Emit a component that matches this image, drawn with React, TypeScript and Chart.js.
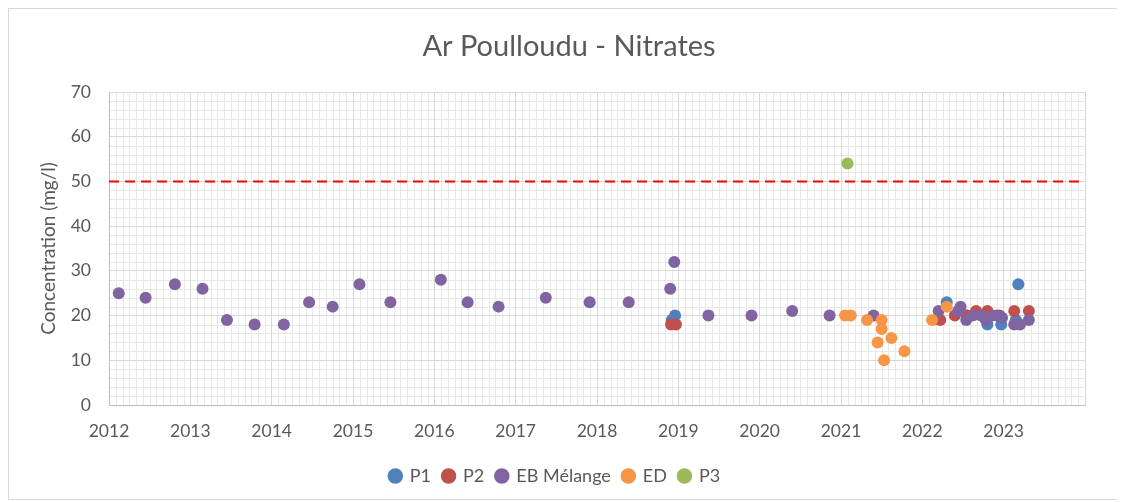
import React, { useEffect, useRef } from "react";
import { Chart, registerables } from "chart.js";

Chart.register(...registerables);

const TITLE = "Ar Poulloudu - Nitrates";
const Y_TITLE = "Concentration (mg/l)";
const X_MIN = 2012;
const X_MAX = 2024;
const Y_MIN = 0;
const Y_MAX = 70;
const Y_STEP = 10;
const THRESHOLD = 50;

const SERIES_NAMES = ["P1", "P2", "EB Mélange", "ED", "P3"];
const SERIES_COLORS = ["#4F81BD", "#C0504D", "#8064A2", "#F79646", "#9BBB59"];

const P1_DATES = [2018.92, 2018.96, 2022.3, 2022.55, 2022.8, 2022.97, 2023.15, 2023.18];
const P1_VALUES = [19, 20, 23, 20, 18, 18, 19, 27];

const P2_DATES = [2018.91, 2018.97, 2022.22, 2022.4, 2022.55, 2022.66, 2022.8, 2022.95, 2023.13, 2023.31];
const P2_VALUES = [18, 18, 19, 20, 20, 21, 21, 20, 21, 21];

const EB_DATES = [
  2012.12, 2012.45, 2012.81, 2013.15, 2013.45, 2013.79, 2014.15, 2014.46, 2014.75, 2015.08,
  2015.46, 2016.08, 2016.41, 2016.79, 2017.37, 2017.91, 2018.39, 2018.9, 2018.95, 2019.37,
  2019.9, 2020.4, 2020.86, 2021.4, 2022.2, 2022.44, 2022.47, 2022.54, 2022.62, 2022.72,
  2022.78, 2022.86, 2022.92, 2022.98, 2023.13, 2023.2, 2023.31,
];
const EB_VALUES = [
  25, 24, 27, 26, 19, 18, 18, 23, 22, 27,
  23, 28, 23, 22, 24, 23, 23, 26, 32, 20,
  20, 21, 20, 20, 21, 21, 22, 19, 20, 20,
  19, 20, 20, 19.5, 18, 18, 19,
];

const ED_DATES = [2021.05, 2021.12, 2021.32, 2021.5, 2021.5, 2021.45, 2021.62, 2021.53, 2021.78, 2022.12, 2022.3];
const ED_VALUES = [20, 20, 19, 19, 17, 14, 15, 10, 12, 19, 22];

const P3_DATES = [2021.08];
const P3_VALUES = [54];

const ALL_DATES = [P1_DATES, P2_DATES, EB_DATES, ED_DATES, P3_DATES];
const ALL_VALUES = [P1_VALUES, P2_VALUES, EB_VALUES, ED_VALUES, P3_VALUES];

const TEXT_COLOR = "#595959";
const FONT = "Lato, 'Open Sans', sans-serif";

const minorGrid = {
  id: "minorGrid",
  beforeDraw(chart: any) {
    const { ctx, chartArea, scales } = chart;
    const xs = scales.x;
    const ys = scales.y;
    ctx.save();
    ctx.strokeStyle = "#e8e8e8";
    ctx.lineWidth = 1;
    ctx.beginPath();
    for (let m = X_MIN * 12; m <= X_MAX * 12; m++) {
      if (m % 12 === 0) continue;
      const px = Math.round(xs.getPixelForValue(m / 12)) + 0.5;
      ctx.moveTo(px, chartArea.top);
      ctx.lineTo(px, chartArea.bottom);
    }
    for (let v = Y_MIN; v <= Y_MAX; v += 2) {
      if (v % Y_STEP === 0) continue;
      const py = Math.round(ys.getPixelForValue(v)) + 0.5;
      ctx.moveTo(chartArea.left, py);
      ctx.lineTo(chartArea.right, py);
    }
    ctx.stroke();
    ctx.restore();
  },
};

const chartTitle = {
  id: "chartTitle",
  afterDraw(chart: any) {
    const { ctx, width } = chart;
    ctx.save();
    ctx.fillStyle = TEXT_COLOR;
    ctx.font = `normal 29px ${FONT}`;
    ctx.textAlign = "center";
    ctx.textBaseline = "middle";
    ctx.fillText(TITLE, width / 2 + 6, 38);
    ctx.restore();
  },
};

export default function App() {
  const ref = useRef<HTMLCanvasElement | null>(null);

  useEffect(() => {
    if (!ref.current) return;
    const scatterSets = SERIES_NAMES.map((name, i) => ({
      type: "scatter" as const,
      label: name,
      data: ALL_DATES[i].map((d, j) => ({ x: d, y: ALL_VALUES[i][j] })),
      backgroundColor: SERIES_COLORS[i],
      borderColor: SERIES_COLORS[i],
      borderWidth: 0,
      pointRadius: 6,
      pointStyle: "circle",
      order: 10 - i,
    }));
    const thresholdSet = {
      type: "line" as const,
      label: "Seuil",
      data: [
        { x: X_MIN, y: THRESHOLD },
        { x: X_MAX, y: THRESHOLD },
      ],
      borderColor: "#FF0000",
      borderWidth: 2,
      borderDash: [10, 6],
      pointRadius: 0,
      fill: false,
      order: 20,
    };
    const chart = new Chart(ref.current, {
      type: "scatter",
      data: { datasets: [...scatterSets, thresholdSet] as any },
      plugins: [minorGrid, chartTitle],
      options: {
        animation: false,
        responsive: false,
        maintainAspectRatio: false,
        layout: { padding: { left: 16, right: 32, top: 83, bottom: 4 } },
        plugins: {
          title: { display: false },
          legend: {
            position: "bottom",
            labels: {
              usePointStyle: true,
              pointStyle: "circle",
              boxWidth: 11,
              boxHeight: 11,
              color: TEXT_COLOR,
              font: { family: FONT, size: 18 },
              padding: 12,
              filter: (item: any) => item.datasetIndex < SERIES_NAMES.length,
              sort: (a: any, b: any) => a.datasetIndex - b.datasetIndex,
            },
          },
          tooltip: { enabled: false },
        },
        scales: {
          x: {
            type: "linear",
            min: X_MIN,
            max: X_MAX,
            afterFit: (s: any) => {
              s.height = 50;
            },
            ticks: {
              stepSize: 1,
              color: TEXT_COLOR,
              font: { family: FONT, size: 17.5 },
              padding: 16,
              maxRotation: 0,
              autoSkip: false,
              callback: (v: any) => (Number(v) >= X_MAX ? "" : String(v)),
            },
            grid: { color: "#d9d9d9", drawTicks: false, lineWidth: 1 },
            border: { color: "#bfbfbf", width: 1 },
          },
          y: {
            min: Y_MIN,
            max: Y_MAX,
            afterFit: (s: any) => {
              s.width = 84;
            },
            ticks: {
              stepSize: Y_STEP,
              color: TEXT_COLOR,
              font: { family: FONT, size: 17.5 },
              padding: 18,
            },
            title: {
              display: true,
              text: Y_TITLE,
              color: TEXT_COLOR,
              font: { family: FONT, size: 19 },
              padding: { top: 12, bottom: 0 },
            },
            grid: { color: "#d9d9d9", drawTicks: false, lineWidth: 1 },
            border: { color: "#bfbfbf", width: 1 },
          },
        },
      } as any,
    });
    return () => chart.destroy();
  }, []);

  return (
    <div
      style={{
        width: 1110,
        height: 492,
        border: "1px solid #d9d9d9",
        boxSizing: "border-box",
        background: "#fff",
      }}
    >
      <canvas ref={ref} width={1108} height={490} style={{ display: "block" }} />
    </div>
  );
}
